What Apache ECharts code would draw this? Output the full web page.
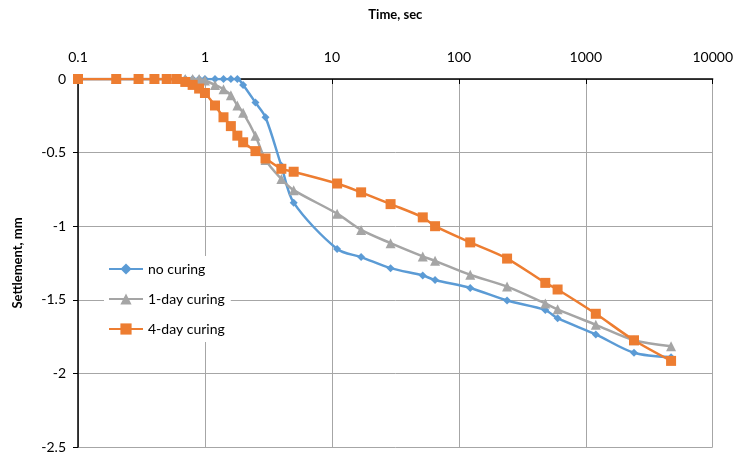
<!DOCTYPE html>
<html>
<head>
<meta charset="utf-8">
<script src="https://cdn.jsdelivr.net/npm/echarts@6/dist/echarts.min.js"></script>
<style>
html,body{margin:0;padding:0;background:#fff;}
#chart{width:736px;height:454px;}
</style>
</head>
<body>
<div id="chart"></div>
<script>
// Data (time in seconds, settlement in mm)
var seriesNames = ['no curing', '1-day curing', '4-day curing'];
var xTickLabels = ['0.1', '1', '10', '100', '1000', '10000'];
var yTickLabels = ['0', '-0.5', '-1', '-1.5', '-2', '-2.5'];

var timeNoCuring = [0.1, 0.2, 0.3, 0.4, 0.5, 0.6, 0.7, 0.8, 0.9, 1.0, 1.2, 1.4, 1.6, 1.8, 2.0, 2.5, 3, 4, 5, 11, 17, 29, 52, 65, 123, 240, 480, 600, 1200, 2400, 4700];
var noCuring = [0, 0, 0, 0, 0, 0, 0, 0, 0, 0, 0, 0, 0, 0, -0.04, -0.16, -0.26, -0.59, -0.84, -1.155, -1.21, -1.285, -1.335, -1.365, -1.42, -1.505, -1.57, -1.625, -1.735, -1.86, -1.89];

var time1Day = [0.1, 0.2, 0.3, 0.4, 0.5, 0.6, 0.7, 0.8, 0.9, 1.0, 1.2, 1.4, 1.6, 1.8, 2.0, 2.5, 3, 4, 5, 11, 17, 29, 52, 65, 123, 240, 480, 600, 1200, 2400, 4700];
var oneDayCuring = [0, 0, 0, 0, 0, 0, 0, 0, 0, -0.01, -0.04, -0.07, -0.11, -0.18, -0.23, -0.385, -0.55, -0.68, -0.755, -0.915, -1.025, -1.115, -1.205, -1.235, -1.33, -1.41, -1.525, -1.565, -1.67, -1.775, -1.815];

var time4Day = [0.1, 0.2, 0.3, 0.4, 0.5, 0.6, 0.7, 0.8, 0.9, 1.0, 1.2, 1.4, 1.6, 1.8, 2.0, 2.5, 3, 4, 5, 11, 17, 29, 52, 65, 123, 240, 480, 600, 1200, 2400, 4700];
var fourDayCuring = [0, 0, 0, 0, 0, 0, -0.02, -0.04, -0.065, -0.095, -0.18, -0.26, -0.32, -0.385, -0.43, -0.49, -0.54, -0.61, -0.63, -0.71, -0.77, -0.85, -0.94, -1.0, -1.11, -1.22, -1.385, -1.43, -1.595, -1.775, -1.915];

function pairs(xs, ys) { return xs.map(function (x, i) { return [x, ys[i]]; }); }

var colors = ['#5B9BD5', '#A5A5A5', '#ED7D31'];
var FONT = 'Lato';

var chart = echarts.init(document.getElementById('chart'), null, {renderer: 'canvas'});
chart.setOption({
  animation: false,
  backgroundColor: '#ffffff',
  color: colors,
  grid: {left: 78, right: 21, top: 79, bottom: 4, containLabel: false},
  legend: {
    orient: 'vertical',
    left: 104,
    top: 256,
    backgroundColor: '#ffffff',
    padding: [6, 6, 6, 4],
    itemGap: 16,
    itemWidth: 34,
    itemHeight: 14,
    textStyle: {fontFamily: FONT, fontSize: 14, color: '#000'},
    data: seriesNames
  },
  xAxis: {
    type: 'log',
    logBase: 10,
    min: 0.1,
    max: 10000,
    position: 'top',
    name: 'Time, sec',
    nameLocation: 'middle',
    nameGap: 58,
    nameTextStyle: {fontFamily: FONT, fontSize: 13, fontWeight: 'bold', color: '#000'},
    axisLine: {show: true, onZero: false, lineStyle: {color: '#000', width: 1.5}},
    axisTick: {show: true, inside: true, length: 5, lineStyle: {color: '#000'}},
    axisLabel: {
      fontFamily: FONT, fontSize: 14, color: '#000', margin: 15,
      formatter: function (v) {
        var idx = Math.round(Math.log10(v)) + 1;
        return xTickLabels[idx] !== undefined ? xTickLabels[idx] : String(v);
      }
    },
    splitLine: {show: true, lineStyle: {color: '#A6A6A6', width: 1}}
  },
  yAxis: {
    type: 'value',
    min: -2.5,
    max: 0,
    interval: 0.5,
    name: 'Settlement, mm',
    nameLocation: 'middle',
    nameGap: 54,
    nameRotate: 90,
    nameTextStyle: {fontFamily: FONT, fontSize: 13, fontWeight: 'bold', color: '#000'},
    axisLine: {show: true, onZero: false, lineStyle: {color: '#000', width: 1.5}},
    axisTick: {show: true, inside: false, length: 5, lineStyle: {color: '#000'}},
    axisLabel: {
      fontFamily: FONT, fontSize: 14, color: '#000', margin: 12,
      formatter: function (v) {
        var idx = Math.round(-v / 0.5);
        return yTickLabels[idx] !== undefined ? yTickLabels[idx] : String(v);
      }
    },
    splitLine: {show: true, lineStyle: {color: '#A6A6A6', width: 1}}
  },
  series: [
    {
      name: seriesNames[0], type: 'line', data: pairs(timeNoCuring, noCuring),
      smooth: 0.3, symbol: 'diamond', symbolSize: 8, z: 2,
      lineStyle: {width: 2.5, color: colors[0]},
      itemStyle: {color: colors[0]}
    },
    {
      name: seriesNames[1], type: 'line', data: pairs(time1Day, oneDayCuring),
      smooth: 0.3, symbol: 'triangle', symbolSize: 10, z: 3,
      lineStyle: {width: 2.5, color: colors[1]},
      itemStyle: {color: colors[1]}
    },
    {
      name: seriesNames[2], type: 'line', data: pairs(time4Day, fourDayCuring),
      smooth: 0.3, symbol: 'rect', symbolSize: 10, z: 4,
      lineStyle: {width: 2.5, color: colors[2]},
      itemStyle: {color: colors[2]}
    }
  ]
});
</script>
</body>
</html>
